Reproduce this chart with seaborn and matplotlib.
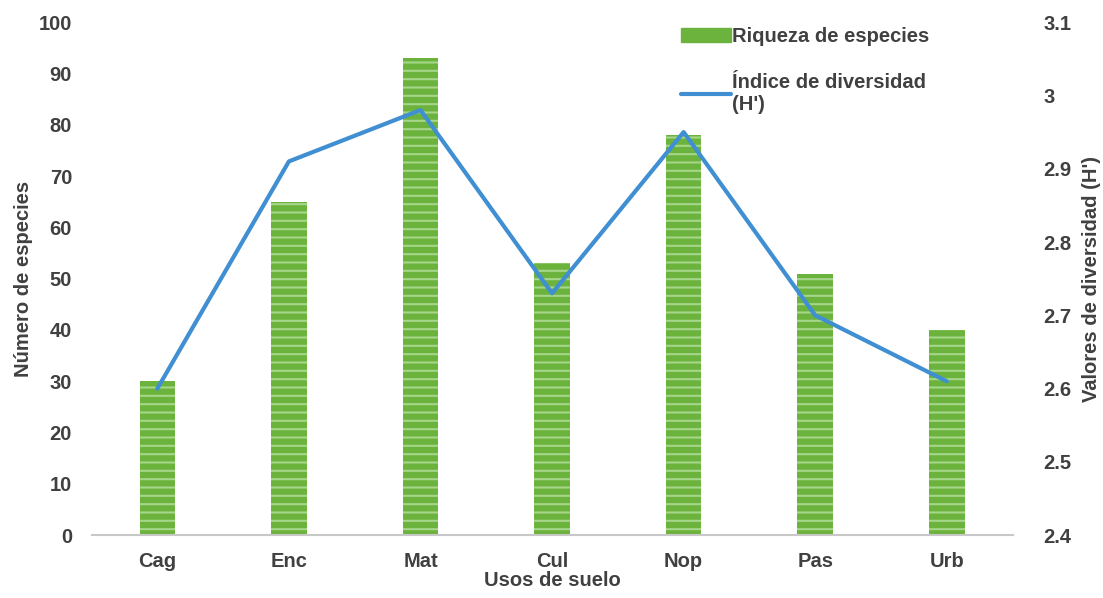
import matplotlib.pyplot as plt
import pandas as pd
import seaborn as sns
from matplotlib.lines import Line2D
from matplotlib.patches import Patch

# data
usos = ["Cag", "Enc", "Mat", "Cul", "Nop", "Pas", "Urb"]
riqueza = [30, 65, 93, 53, 78, 51, 40]
diversidad = [2.60, 2.91, 2.98, 2.73, 2.95, 2.70, 2.61]

df = pd.DataFrame({"uso": usos, "riqueza": riqueza, "diversidad": diversidad})

sns.set_style("white")
plt.rcParams["font.family"] = ["Liberation Sans", "DejaVu Sans"]
plt.rcParams["hatch.linewidth"] = 1.5

txt = "#404040"
green = "#6cb33e"
blue = "#3f8fd2"
fs = 14.5

fig = plt.figure(figsize=(11.03, 5.98), dpi=100)
ax = fig.add_axes([0.083, 0.105, 0.835, 0.858])

sns.barplot(data=df, x="uso", y="riqueza", color=green, width=0.27,
            saturation=1, ax=ax)
for bar in ax.patches:
    bar.set_hatch("--")
    bar.set_edgecolor("#a6d689")
    bar.set_linewidth(0)

ax.set_ylim(0, 100)
ax.set_yticks(range(0, 101, 10))
ax.set_xlim(-0.5, 6.5)
for s in ["top", "right", "left"]:
    ax.spines[s].set_visible(False)
ax.spines["bottom"].set_color("#c8c8c8")
ax.spines["bottom"].set_linewidth(1.5)
ax.tick_params(axis="y", length=0, labelsize=fs, labelcolor=txt, pad=14)
ax.tick_params(axis="x", length=0, labelsize=fs, labelcolor=txt, pad=12)
for lab in ax.get_xticklabels() + ax.get_yticklabels():
    lab.set_fontweight("bold")
ax.set_xlabel("Usos de suelo", fontsize=fs, fontweight="bold", color=txt, labelpad=0)
ax.set_ylabel("Número de especies", fontsize=fs, fontweight="bold", color=txt, labelpad=4)

ax2 = ax.twinx()
sns.lineplot(data=df, x="uso", y="diversidad", sort=False, color=blue,
             linewidth=3, ax=ax2)
ax2.set_ylim(2.4, 3.1)
ax2.set_yticks([2.4, 2.5, 2.6, 2.7, 2.8, 2.9, 3.0, 3.1])
ax2.set_yticklabels(["2.4", "2.5", "2.6", "2.7", "2.8", "2.9", "3", "3.1"])
for s in ["top", "right", "left", "bottom"]:
    ax2.spines[s].set_visible(False)
ax2.tick_params(axis="y", length=0, labelsize=fs, labelcolor=txt, pad=22)
for lab in ax2.get_yticklabels():
    lab.set_fontweight("bold")
ax2.set_ylabel("Valores de diversidad (H')", fontsize=fs, fontweight="bold",
               color=txt, labelpad=8)

handles = [Patch(facecolor=green, edgecolor=green),
           Line2D([0], [0], color=blue, linewidth=3)]
ax2.legend(handles, ["Riqueza de especies", "Índice de diversidad\n(H')"],
           loc="upper left", bbox_to_anchor=(0.62, 1.025), frameon=False,
           prop={"size": fs, "weight": "bold"}, labelcolor=txt,
           handlelength=2.5, handletextpad=0.05, labelspacing=1.3)

fig.savefig("out.png", dpi=100)
